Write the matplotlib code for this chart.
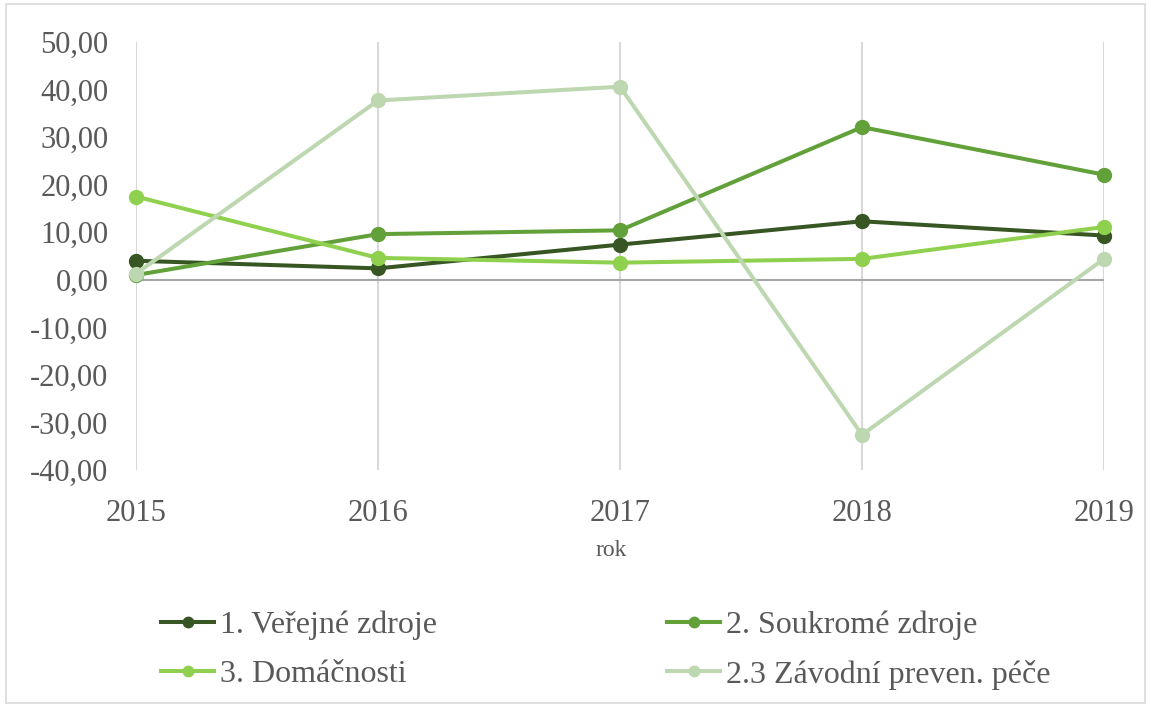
import matplotlib
matplotlib.use("Agg")
import matplotlib.pyplot as plt
from matplotlib.patches import Rectangle

# data
years = [2015, 2016, 2017, 2018, 2019]
verejne = [4.0, 2.4, 7.4, 12.3, 9.3]
soukrome = [1.0, 9.6, 10.4, 32.1, 22.1]
domacnosti = [17.5, 4.6, 3.6, 4.4, 11.1]
zavodni = [1.3, 37.7, 40.6, -32.6, 4.4]

names = ["1. Veřejné zdroje", "2. Soukromé zdroje", "3. Domáčnosti", "2.3 Závodní preven. péče"]
colors = ["#375623", "#62A03A", "#8FD14F", "#BDD7B0"]
yticks = [50, 40, 30, 20, 10, 0, -10, -20, -30, -40]

plt.rcParams['font.family'] = ['Liberation Serif', 'DejaVu Serif']

fig = plt.figure(figsize=(11.51, 7.07), dpi=100)
ax = fig.add_axes([0.1182, 0.3352, 0.841, 0.6054])

# vertical gridlines + zero line
for y in years:
    ax.axvline(y, color="#D9D9D9", lw=1.5, zorder=0)
ax.axhline(0, color="#A6A6A6", lw=1.5, zorder=1)

series = [verejne, soukrome, domacnosti, zavodni]
lines = []
for vals, name, c in zip(series, names, colors):
    ln, = ax.plot(years, vals, color=c, lw=2.9, marker="o", markersize=10,
                  label=name, clip_on=False, zorder=3)
    lines.append(ln)

ax.set_xlim(2015, 2019)
ax.set_ylim(-40, 50)
ax.set_xticks(years)
ax.set_xticklabels([str(y) for y in years])
ax.set_yticks(yticks)
ax.set_yticklabels([f"{v:.2f}".replace(".", ",") for v in yticks])
ax.tick_params(axis="both", length=0, labelsize=22, labelcolor="#595959")
ax.tick_params(axis="y", pad=20)
ax.tick_params(axis="x", pad=21)
for s in ax.spines.values():
    s.set_visible(False)

fig.text(0.531, 1 - 551 / 707, "rok", ha="center", va="center",
         fontsize=17, color="#595959")

# legend filled row by row like the original
order = [0, 2, 1, 3]
leg = fig.legend([lines[i] for i in order], [names[i] for i in order],
                 loc="upper left", bbox_to_anchor=(0.1206, 1 - 588 / 707),
                 ncol=2, frameon=False, fontsize=23, handlelength=1.65,
                 handletextpad=0.2, columnspacing=7.2, labelspacing=0.62,
                 borderpad=0.2, markerscale=0.75)
for t in leg.get_texts():
    t.set_color("#595959")

fig.patches.append(Rectangle((0.005, 0.005), 0.99, 0.99, transform=fig.transFigure,
                             fill=False, edgecolor="#D9D9D9", lw=1.2))

fig.savefig("out.png", dpi=100)
